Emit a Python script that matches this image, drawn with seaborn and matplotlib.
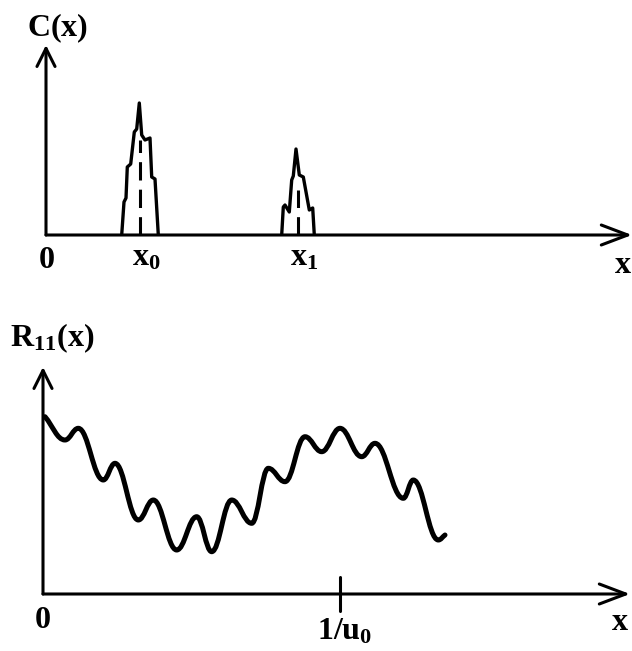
import matplotlib
matplotlib.use('Agg')
import matplotlib.pyplot as plt
import seaborn as sns
from matplotlib.path import Path
from matplotlib.patches import PathPatch

# top panel: C(x), two narrow peaks (x from origin, height above the axis)
peak0_x = [75.7, 78, 80, 81.3, 84.7, 88.3, 90.7, 93.3, 95.7, 99, 104, 105.7, 109, 112.3]
peak0_y = [0, 33, 37, 68, 71, 103, 106, 132, 100, 95, 97, 58, 56, 0]
peak0_center, peak0_dash_top = 94, 95

peak1_x = [235.7, 237.3, 239, 243.3, 245.7, 247.3, 250, 253.3, 257.3, 263.3, 266.7, 268.3]
peak1_y = [0, 28, 30, 23, 55, 59, 86, 60, 58, 25, 27, 0]
peak1_center, peak1_dash_top = 251.7, 45

# bottom panel: R11(x), wavy curve (extrema)
wave_x = [2, 22, 35.3, 60.3, 72, 95.3, 110.3, 133.7, 153.7, 168.7, 188.7, 208.7,
          225.3, 242, 262, 278.7, 297, 318.7, 332, 360.3, 370.3, 395.3, 402]
wave_y = [177.3, 154, 165.7, 114, 130.7, 74, 94, 44, 77.3, 42.3, 94, 70.7,
          125.7, 112.3, 157.3, 142.3, 165.7, 137.3, 150.7, 95.7, 114, 54, 59]
tick_pos = 297
tick_span = [-17, 17]

sns.set_style('white')
plt.rcParams['font.family'] = ['Liberation Serif', 'DejaVu Serif']
plt.rcParams['mathtext.fontset'] = 'custom'
plt.rcParams['mathtext.rm'] = 'Liberation Serif'
plt.rcParams['mathtext.bf'] = 'Liberation Serif:bold'
plt.rcParams['mathtext.it'] = 'Liberation Serif:italic'

W, H = 632, 651
fig = plt.figure(figsize=(W / 100, H / 100), dpi=100)
ax1 = fig.add_axes([46 / W, (H - 235) / H, (632 - 46) / W, (235 - 45) / H])
ax2 = fig.add_axes([43 / W, (H - 594) / H, (630 - 43) / W, (594 - 367) / H])

AX_LW = 2.2
FS = 23


def axis_arrows(ax, xmax, ymax):
    ax.annotate('', xy=(xmax, 0), xytext=(0, 0), annotation_clip=False,
                arrowprops=dict(arrowstyle='->,head_length=1.9,head_width=0.72',
                                lw=AX_LW, color='k', shrinkA=0, shrinkB=0))
    ax.annotate('', xy=(0, ymax), xytext=(0, 0), annotation_clip=False,
                arrowprops=dict(arrowstyle='->,head_length=1.3,head_width=0.65',
                                lw=AX_LW, color='k', shrinkA=0, shrinkB=0))
    ax.set_axis_off()


# peaks
for px, py in [(peak0_x, peak0_y), (peak1_x, peak1_y)]:
    sns.lineplot(x=px, y=py, sort=False, estimator=None, color='k', lw=2.4, ax=ax1)
for c, top in [(peak0_center, peak0_dash_top), (peak1_center, peak1_dash_top)]:
    sns.lineplot(x=[c, c], y=[0, top], sort=False, estimator=None, color='k',
                 lw=AX_LW, linestyle=(0, (6, 3)), ax=ax1)

# wavy curve as smooth cubic segments with flat tangents at the extrema
verts = [(wave_x[0], wave_y[0])]
codes = [Path.MOVETO]
n = len(wave_x)
for i in range(n - 1):
    x0, y0, x1, y1 = wave_x[i], wave_y[i], wave_x[i + 1], wave_y[i + 1]
    dx, dy = x1 - x0, y1 - y0
    c1 = (x0 + 0.4 * dx, y0 + (0.4 * dy if i == 0 else 0))
    c2 = (x1 - 0.4 * dx, y1 - (0.4 * dy if i == n - 2 else 0))
    verts += [c1, c2, (x1, y1)]
    codes += [Path.CURVE4] * 3
ax2.add_patch(PathPatch(Path(verts, codes), facecolor='none', edgecolor='k',
                        lw=3.6, capstyle='round', joinstyle='round', clip_on=False))

# tick at 1/u0, crossing the axis
ax2.plot([tick_pos, tick_pos], tick_span, color='k', lw=AX_LW, clip_on=False)

ax1.set_xlim(0, 586)
ax1.set_ylim(0, 190)
ax2.set_xlim(0, 587)
ax2.set_ylim(0, 227)
axis_arrows(ax1, 586, 190)
axis_arrows(ax2, 587, 227)

# labels
tk = dict(fontsize=FS, fontweight='bold', ha='center', va='baseline', color='k')
ax1.text(12, 198.3, r'$\mathbf{C(x)}$', **tk)
ax1.text(0.7, -32.7, '0', **tk)
ax1.text(100, -30, r'$\mathbf{x_0}$', **tk)
ax1.text(258, -30, r'$\mathbf{x_1}$', **tk)
ax1.text(577, -38.3, 'x', **tk)

ax2.text(9, 247.3, r'$\mathbf{R_{11}(x)}$', **tk)
ax2.text(-0.3, -34.3, '0', **tk)
ax2.text(302, -46, r'$\mathbf{1/u_0}$', **tk)
ax2.text(577, -36, 'x', **tk)

plt.savefig('out.png', dpi=100)
